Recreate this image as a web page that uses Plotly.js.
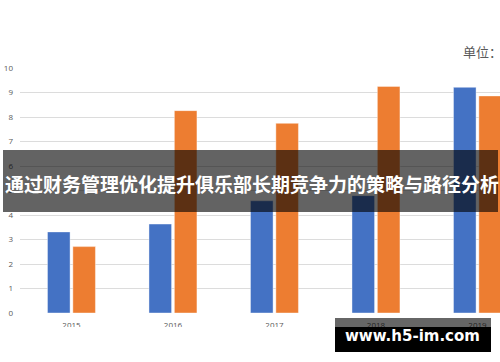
<!DOCTYPE html>
<html>
<head>
<meta charset="utf-8">
<script src="https://cdn.plot.ly/plotly-3.0.1.min.js"></script>
<style>html,body{margin:0;padding:0;background:#fff;}#chart{width:500px;height:362px;}</style>
</head>
<body>
<div id="chart"></div>
<script>
var categories = ['2015', '2016', '2017', '2018', '2019'];
var seriesBlue = [3.31, 3.63, 4.58, 4.79, 9.21];
var seriesOrange = [2.71, 8.26, 7.74, 9.25, 8.86];
var yTicks = [0, 1, 2, 3, 4, 5, 6, 7, 8, 9, 10];
var bannerText = '通过财务管理优化提升俱乐部长期竞争力的策略与路径分析';
var unitText = '单位：';
var watermarkText = 'www.h5-im.com';

var W = 500, H = 362, ML = 20, MR = 0, MT = 68, MB = 49;
var PW = W - ML - MR, PH = H - MT - MB;
function px(x) { return (x - ML) / PW; }
function py(y) { return (H - MB - y) / PH; }

var traces = [
  { type: 'bar', x: categories, y: seriesBlue, name: 'A',
    marker: { color: '#4472C4', line: { color: 'rgba(255,255,255,0.5)', width: 0.8 } } },
  { type: 'bar', x: categories, y: seriesOrange, name: 'B',
    marker: { color: '#ED7D31', line: { color: 'rgba(255,255,255,0.5)', width: 0.8 } } }
];

var layout = {
  width: W, height: H,
  margin: { l: ML, r: MR, t: MT, b: MB, pad: 0 },
  paper_bgcolor: '#ffffff', plot_bgcolor: '#ffffff',
  showlegend: false,
  barmode: 'group', bargap: 0.5, bargroupgap: 0.11,
  font: { family: 'Open Sans, Liberation Sans, sans-serif', color: '#595959' },
  xaxis: {
    type: 'category', range: [-0.507, 4.222],
    showgrid: false, zeroline: false, showline: false, ticks: '',
    tickfont: { size: 8, color: '#595959' }, ticklabelstandoff: 6
  },
  yaxis: {
    range: [0, 10], tickvals: yTicks, ticktext: yTicks.map(String),
    showgrid: true, gridcolor: '#dcdcdc', gridwidth: 1,
    zeroline: false, showline: false, ticks: '',
    tickfont: { size: 8, color: '#595959' }, ticklabelstandoff: 6
  },
  shapes: [
    { type: 'rect', xref: 'paper', yref: 'paper', layer: 'above',
      x0: px(0), x1: px(500), y0: py(327), y1: py(362),
      fillcolor: '#ffffff', line: { width: 0 } },
    { type: 'rect', xref: 'paper', yref: 'paper', layer: 'above',
      x0: px(3), x1: px(498), y0: py(212), y1: py(150),
      fillcolor: 'rgba(0,0,0,0.61)', line: { width: 0 } },
    { type: 'rect', xref: 'paper', yref: 'paper', layer: 'above',
      x0: px(335), x1: px(491), y0: py(327), y1: py(318),
      fillcolor: 'rgba(0,0,0,0.6)', line: { width: 0 } },
    { type: 'rect', xref: 'paper', yref: 'paper', layer: 'above',
      x0: px(335), x1: px(491), y0: py(352), y1: py(327),
      fillcolor: '#000000', line: { width: 0 } }
  ],
  annotations: [
    { text: bannerText, xref: 'paper', yref: 'paper', x: px(3), y: py(183),
      xanchor: 'left', yanchor: 'middle', showarrow: false,
      font: { family: 'Noto Sans CJK SC', size: 19, color: '#ffffff', weight: 'bold' } },
    { text: unitText, xref: 'paper', yref: 'paper', x: px(461), y: py(51),
      xanchor: 'left', yanchor: 'middle', showarrow: false,
      font: { family: 'Noto Sans CJK SC', size: 13, color: '#595959' } },
    { text: watermarkText, xref: 'paper', yref: 'paper', x: px(412), y: py(336),
      xanchor: 'center', yanchor: 'middle', showarrow: false,
      font: { family: 'DejaVu Sans', size: 15, color: '#ffffff', weight: 'bold' } }
  ]
};

Plotly.newPlot('chart', traces, layout, { displayModeBar: false, staticPlot: true });
</script>
</body>
</html>
